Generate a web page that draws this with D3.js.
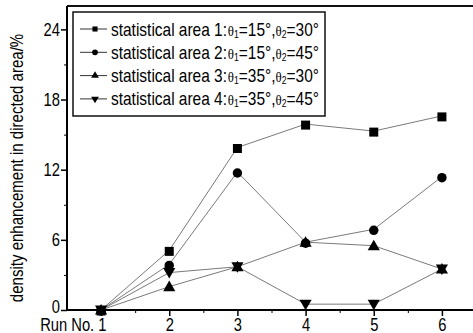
<!DOCTYPE html>
<html><head><meta charset="utf-8">
<script src="https://cdn.jsdelivr.net/npm/d3@7"></script>
<style>body{margin:0;background:#fff}svg{display:block}</style>
</head><body><svg id="c" width="473" height="333"></svg>
<script>
const runs = [1, 2, 3, 4, 5, 6];
const area1 = [0, 5.1, 13.9, 15.9, 15.3, 16.6];
const area2 = [0, 3.9, 11.8, 5.8, 6.9, 11.4];
const area3 = [0, 2.0, 3.7, 5.8, 5.5, 3.5];
const area4 = [0, 3.2, 3.7, 0.5, 0.5, 3.5];
const yTicks = [0, 6, 12, 18, 24];
const seriesNames = ["statistical area 1:", "statistical area 2:", "statistical area 3:", "statistical area 4:"];
const theta1 = ["15", "15", "35", "35"];
const theta2 = ["30", "45", "30", "45"];
const yLabel = "density enhancement in directed area/%";

const svg = d3.select("#c");
const L = 67, R = 476, T = 6, B = 310;
const x = d3.scaleLinear().domain([0.5, 6.5]).range([L, R]);
const y = d3.scaleLinear().domain([0, 26]).range([B, T]);
const SX = 0.82;

const series = [
  {v: area1, sym: d3.symbolSquare, size: 81, rot: 0},
  {v: area2, sym: d3.symbolCircle, size: 70, rot: 0},
  {v: area3, sym: d3.symbolTriangle, size: 64, rot: 0},
  {v: area4, sym: d3.symbolTriangle, size: 64, rot: 180}
];

// frame top
svg.append("line").attr("x1", L).attr("x2", 473).attr("y1", T).attr("y2", T)
  .attr("stroke", "#111").attr("stroke-width", 2);

// lines
const line = d3.line().x((d, i) => x(runs[i])).y(d => y(d));
series.forEach(s => {
  svg.append("path").attr("d", line(s.v)).attr("fill", "none")
    .attr("stroke", "#7a7a7a").attr("stroke-width", 1);
});
// markers
series.forEach(s => {
  svg.selectAll(null).data(s.v).enter().append("path")
    .attr("d", d3.symbol().type(s.sym).size(s.size))
    .attr("transform", (d, i) => `translate(${x(runs[i])},${y(d) + (s.rot ? -1 : 1)}) rotate(${s.rot})`)
    .attr("fill", "#000");
});

// axes
const fontFam = "'Liberation Sans', Arial, sans-serif";
const yAxis = d3.axisLeft(y).tickValues(yTicks).tickSize(6).tickPadding(2).tickFormat(d3.format("d"));
const yMinor = d3.axisLeft(y).tickValues([3, 9, 15, 21]).tickSize(3).tickFormat("");
const gy = svg.append("g").attr("transform", `translate(${L},0)`).call(yAxis);
svg.append("g").attr("transform", `translate(${L},0)`).call(yMinor).select(".domain").remove();
gy.select(".domain").attr("d", `M0,${B}V${T}`).attr("stroke-width", 2);
gy.selectAll("text").attr("font-size", 18).attr("font-family", fontFam).attr("fill", "#000")
  .attr("x", 0).attr("transform", d => `translate(-7,${d === 0 ? -3 : 0}) scale(${SX},1)`);
gy.selectAll("line").attr("stroke-width", 1.5);

const xAxis = d3.axisBottom(x).tickValues(runs).tickSize(6).tickPadding(2)
  .tickFormat(d => d === 1 ? "Run No. 1" : d);
const xMinor = d3.axisBottom(x).tickValues([1.5, 2.5, 3.5, 4.5, 5.5]).tickSize(3).tickFormat("");
const gx = svg.append("g").attr("transform", `translate(0,${B})`).call(xAxis);
svg.append("g").attr("transform", `translate(0,${B})`).call(xMinor).select(".domain").remove();
gx.select(".domain").attr("d", `M${L},0H473`).attr("stroke-width", 2);
gx.selectAll("line").attr("stroke-width", 1.5);
gx.selectAll("text").attr("font-size", 18).attr("font-family", fontFam).attr("fill", "#000")
  .attr("text-anchor", d => d === 1 ? "end" : "middle")
  .attr("dx", d => d === 1 ? 6 : 0)
  .attr("transform", `scale(${SX},1)`);

// y label
svg.append("g").attr("transform", `translate(23,${(T + B) / 2 + 10}) rotate(-90) scale(0.86,1)`)
  .append("text").attr("text-anchor", "middle").attr("font-size", 17.5).attr("font-family", fontFam)
  .text(yLabel);

// legend
const lg = svg.append("g");
lg.append("rect").attr("x", 73).attr("y", 12).attr("width", 252).attr("height", 104)
  .attr("fill", "#fff").attr("stroke", "#111").attr("stroke-width", 1.5);
series.forEach((s, i) => {
  const yy = 29 + i * 23.3;
  lg.append("line").attr("x1", 80).attr("x2", 107).attr("y1", yy).attr("y2", yy)
    .attr("stroke", "#333").attr("stroke-width", 1);
  lg.append("path").attr("d", d3.symbol().type(s.sym).size(26)())
    .attr("transform", `translate(95,${yy}) rotate(${s.rot})`).attr("fill", "#000");
  const t = lg.append("g").attr("transform", `translate(111,${yy + 6.5}) scale(0.86,1)`)
    .append("text").attr("font-size", 18).attr("font-family", fontFam);
  t.append("tspan").text(seriesNames[i]);
  t.append("tspan").attr("font-family", "'Liberation Serif', serif").attr("font-size", 15).attr("dx", 1).text("θ");
  t.append("tspan").attr("font-size", 10).attr("dy", 2).attr("font-family", fontFam).text("1");
  t.append("tspan").attr("dy", -2).text("=" + theta1[i] + "°,");
  t.append("tspan").attr("font-family", "'Liberation Serif', serif").attr("font-size", 15).text("θ");
  t.append("tspan").attr("font-size", 10).attr("dy", 2).text("2");
  t.append("tspan").attr("dy", -2).text("=" + theta2[i] + "°");
});
</script></body></html>
